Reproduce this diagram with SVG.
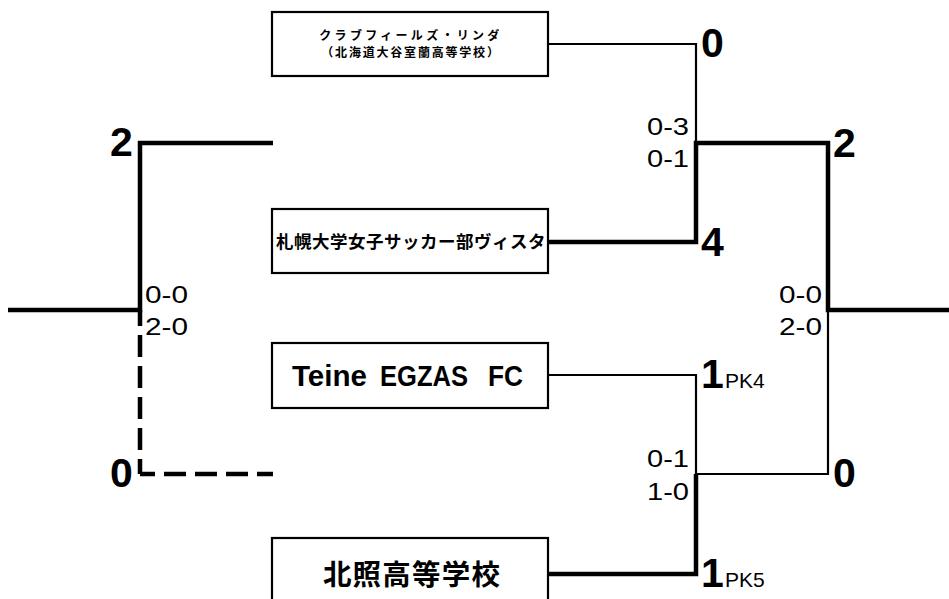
<svg xmlns="http://www.w3.org/2000/svg" width="949" height="599" viewBox="0 0 949 599">
<style>
.box{fill:#fff;stroke:#000;stroke-width:2.2}
.thin{fill:none;stroke:#000;stroke-width:2.2}
.thick{fill:none;stroke:#000;stroke-width:4.5}
.dash{fill:none;stroke:#000;stroke-width:4.5;stroke-dasharray:22 9;stroke-dashoffset:7}
.big{font-family:"Liberation Sans",Arial,sans-serif;font-weight:bold;font-size:41px;fill:#000}
.sc{font-family:"Liberation Sans",Arial,sans-serif;font-size:24px;fill:#000}
.pk{font-family:"Liberation Sans",Arial,sans-serif;font-size:21px;fill:#000}
.jp{font-family:"Noto Sans CJK JP","Noto Sans CJK SC",sans-serif;font-weight:bold;fill:#000;text-anchor:middle}
.en{font-family:"Liberation Sans",Arial,sans-serif;font-weight:bold;font-size:29px;fill:#000}
</style>
<rect width="949" height="599" fill="#fff"/>
<g id="connectors">
<path class="thin" d="M548 44H696V143"/>
<path class="thick" d="M548 242H696V143H828V310H949"/>
<path class="thin" d="M828 310V474H696"/>
<path class="thin" d="M548 375H696V474"/>
<path class="thick" d="M548 574H696V474"/>
<path class="thick" d="M273 143H140V310H8"/>
<path class="dash" d="M140 474V310"/>
<path class="dash" d="M140 474H273"/>
</g>
<g id="team1">
<rect class="box" x="272" y="12" width="276" height="64"/>
<text class="jp" x="411" y="40" font-size="12" letter-spacing="3.3">クラブフィールズ・リンダ</text>
<text class="jp" x="411" y="57" font-size="12" letter-spacing="1.8">（北海道大谷室蘭高等学校）</text>
</g>
<g id="team2">
<rect class="box" x="272" y="209" width="276" height="64"/>
<text class="jp" x="411" y="248" font-size="17.5" letter-spacing="0.5">札幌大学女子サッカー部ヴィスタ</text>
</g>
<g id="team3">
<rect class="box" x="272" y="343" width="276" height="65"/>
<text class="en" y="386"><tspan x="292" textLength="75" lengthAdjust="spacingAndGlyphs">Teine</tspan> <tspan x="380" textLength="88" lengthAdjust="spacingAndGlyphs">EGZAS</tspan> <tspan x="488" textLength="35" lengthAdjust="spacingAndGlyphs">FC</tspan></text>
</g>
<g id="team4">
<rect class="box" x="272" y="538" width="276" height="80"/>
<text class="jp" x="412" y="585" font-size="28.5" letter-spacing="1.2">北照高等学校</text>
</g>
<g id="scores">
<text class="big" x="701" y="57">0</text>
<text class="big" x="701" y="256">4</text>
<text class="big" x="833" y="157">2</text>
<text class="big" x="833" y="487">0</text>
<text class="big" x="110" y="156">2</text>
<text class="big" x="110" y="487">0</text>
<text class="big" x="701" y="388">1</text>
<text class="pk" x="725" y="388">PK4</text>
<text class="big" x="701" y="587">1</text>
<text class="pk" x="725" y="587">PK5</text>
<text class="sc" x="647" y="135" textLength="42" lengthAdjust="spacingAndGlyphs">0-3</text>
<text class="sc" x="647" y="167" textLength="42" lengthAdjust="spacingAndGlyphs">0-1</text>
<text class="sc" x="647" y="467" textLength="42" lengthAdjust="spacingAndGlyphs">0-1</text>
<text class="sc" x="647" y="500" textLength="42" lengthAdjust="spacingAndGlyphs">1-0</text>
<text class="sc" x="779" y="303" textLength="43" lengthAdjust="spacingAndGlyphs">0-0</text>
<text class="sc" x="779" y="335" textLength="43" lengthAdjust="spacingAndGlyphs">2-0</text>
<text class="sc" x="145" y="303" textLength="43" lengthAdjust="spacingAndGlyphs">0-0</text>
<text class="sc" x="145" y="335" textLength="43" lengthAdjust="spacingAndGlyphs">2-0</text>
</g>
</svg>
